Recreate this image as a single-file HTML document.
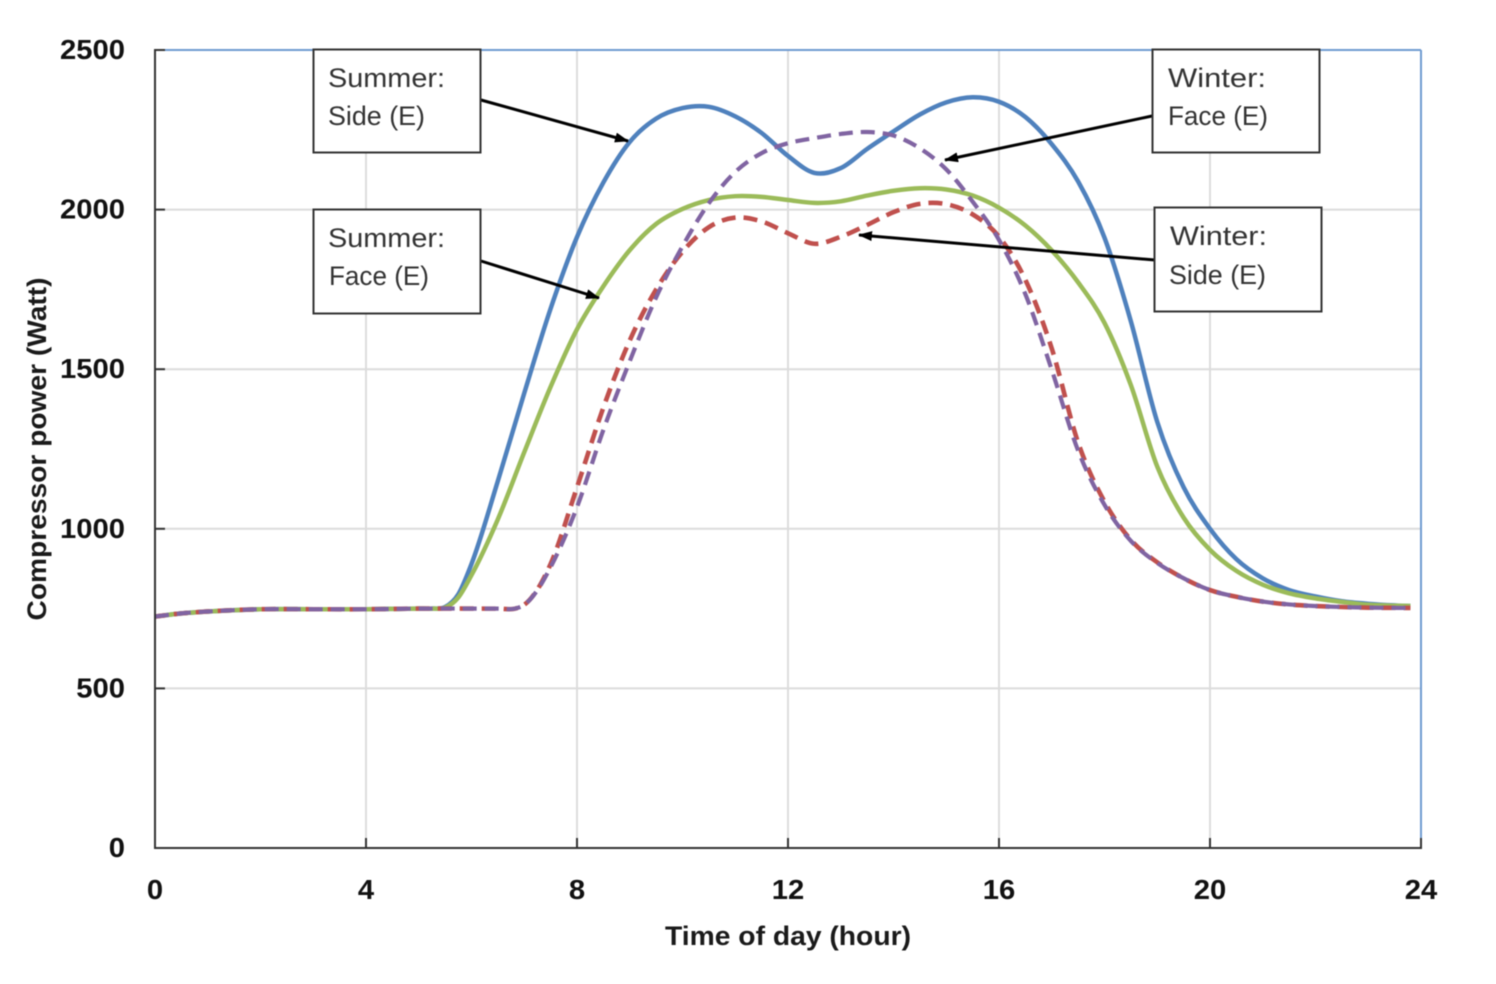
<!DOCTYPE html>
<html lang="en">
<head>
<meta charset="utf-8">
<title>Compressor power vs time of day</title>
<style>
html,body{margin:0;padding:0;background:#fff;}
svg{display:block;filter:blur(0.45px);}
text{font-family:"Liberation Sans",sans-serif;}
.tick{font-size:28px;font-weight:bold;fill:#111;}
.title{font-size:27px;font-weight:bold;fill:#1a1a1a;}
.box{fill:#fff;stroke:#333;stroke-width:2;}
.note{font-size:27px;fill:#333;}
.arrow{stroke:#000;stroke-width:3;fill:none;}
</style>
</head>
<body>
<svg id="chart" width="1496" height="984" viewBox="0 0 1496 984" xmlns="http://www.w3.org/2000/svg">
  <defs>
    <marker id="arrow-head" markerWidth="14" markerHeight="10" refX="13" refY="5" orient="auto" markerUnits="userSpaceOnUse">
      <path d="M0,0 L14,5 L0,10 Z" fill="#000"></path>
    </marker>
  </defs>
  <rect x="0" y="0" width="1496" height="984" fill="#fff"></rect>
  <g id="grid"></g>
  <line x1="155" y1="50" x2="1421" y2="50" stroke="#6f9bd1" stroke-width="2"></line>
  <line x1="1421" y1="50" x2="1421" y2="848" stroke="#6f9bd1" stroke-width="2"></line>
  <g id="series"></g>
  <g id="axes"></g>
  <text class="title" x="788" y="945" text-anchor="middle" textLength="246" lengthAdjust="spacingAndGlyphs">Time of day (hour)</text>
  <text class="title" transform="translate(46,449) rotate(-90)" text-anchor="middle" textLength="343" lengthAdjust="spacingAndGlyphs">Compressor power (Watt)</text>

  <line class="arrow" x1="481" y1="100" x2="628" y2="141" marker-end="url(#arrow-head)"></line>
  <line class="arrow" x1="481" y1="261" x2="599" y2="298" marker-end="url(#arrow-head)"></line>
  <line class="arrow" x1="1152" y1="116" x2="945" y2="160" marker-end="url(#arrow-head)"></line>
  <line class="arrow" x1="1155" y1="260" x2="859" y2="235" marker-end="url(#arrow-head)"></line>

  <g>
    <rect class="box" x="313.5" y="49.5" width="167" height="103"></rect>
    <text class="note" x="328" y="87" textLength="117" lengthAdjust="spacingAndGlyphs">Summer:</text>
    <text class="note" x="328" y="125" textLength="97" lengthAdjust="spacingAndGlyphs">Side (E)</text>
  </g>
  <g>
    <rect class="box" x="313.5" y="209.5" width="167" height="104"></rect>
    <text class="note" x="328" y="247" textLength="117" lengthAdjust="spacingAndGlyphs">Summer:</text>
    <text class="note" x="329" y="285" textLength="100" lengthAdjust="spacingAndGlyphs">Face (E)</text>
  </g>
  <g>
    <rect class="box" x="1152.5" y="49.5" width="167" height="103"></rect>
    <text class="note" x="1168" y="87" textLength="98" lengthAdjust="spacingAndGlyphs">Winter:</text>
    <text class="note" x="1168" y="125" textLength="100" lengthAdjust="spacingAndGlyphs">Face (E)</text>
  </g>
  <g>
    <rect class="box" x="1154.5" y="207.5" width="167" height="104"></rect>
    <text class="note" x="1170" y="245" textLength="97" lengthAdjust="spacingAndGlyphs">Winter:</text>
    <text class="note" x="1169" y="284" textLength="97" lengthAdjust="spacingAndGlyphs">Side (E)</text>
  </g>
</svg>
<script>
var xTickLabels = [0, 4, 8, 12, 16, 20, 24];
var yTickLabels = [0, 500, 1000, 1500, 2000, 2500];

var summerSideHours = [0,0.5,1,2,3,4,5,5.25,5.5,5.75,6,6.5,7,7.5,8,8.5,9,9.5,10,10.5,11,11.5,12,12.5,13,13.5,14,14.5,15,15.5,16,16.5,17,17.5,18,18.5,19,19.5,20,20.5,21,21.5,22,22.5,23,23.5,23.8];
var summerSideWatts = [725,735,741,748,748,748,750,750,755,795,890,1150,1425,1690,1914,2085,2212,2285,2318,2322,2292,2240,2168,2115,2130,2190,2245,2298,2336,2352,2338,2290,2205,2088,1912,1650,1335,1130,1000,905,845,808,788,773,765,760,758];

var summerFaceHours = [0,0.5,1,2,3,4,5,5.25,5.5,5.75,6,6.5,7,7.5,8,8.5,9,9.5,10,10.5,11,11.5,12,12.5,13,13.5,14,14.5,15,15.5,16,16.5,17,17.5,18,18.5,19,19.5,20,20.5,21,21.5,22,22.5,23,23.5,23.8];
var summerFaceWatts = [725,735,741,748,748,748,750,750,753,785,855,1030,1240,1445,1625,1760,1873,1955,2002,2030,2042,2040,2030,2021,2026,2044,2059,2067,2063,2044,2006,1950,1872,1772,1645,1450,1195,1035,934,868,825,798,782,771,762,759,758];

var winterSideHours = [0,0.5,1,2,3,4,5,6,6.5,6.85,7,7.25,7.5,8,8.5,9,9.5,10,10.5,11,11.5,12,12.5,13,13.5,14,14.5,15,15.5,16,16.5,17,17.5,18,18.5,19,19.5,20,20.5,21,21.5,22,22.5,23,23.8];
var winterSideWatts = [725,735,741,748,748,748,750,750,750,751,762,810,890,1130,1380,1590,1750,1868,1945,1975,1963,1926,1893,1915,1952,1992,2018,2017,1985,1915,1780,1565,1270,1085,965,895,845,808,787,772,763,758,755,753,752];

var winterFaceHours = [0,0.5,1,2,3,4,5,6,6.5,6.85,7,7.25,7.5,8,8.5,9,9.5,10,10.5,11,11.5,12,12.5,13,13.5,14,14.5,15,15.5,16,16.5,17,17.5,18,18.5,19,19.5,20,20.5,21,21.5,22,22.5,23,23.8];
var winterFaceWatts = [725,735,741,748,748,748,750,750,750,751,762,808,880,1068,1310,1525,1725,1885,2020,2118,2177,2208,2224,2237,2243,2232,2192,2126,2025,1905,1735,1498,1245,1075,962,893,845,808,787,772,763,758,755,753,752];

var SVGNS = 'http://www.w3.org/2000/svg';
function xPos(h) { return 155 + h * (1266 / 24); }
function yPos(w) { return 848 - w * (798 / 2500); }

// Smooth cubic path through the data points (three-point tangents)
function curvePath(hours, watts) {
  var px = hours.map(xPos), py = watts.map(yPos), n = px.length, m = [], s = [], i;
  for (i = 0; i < n - 1; i++) s.push((py[i + 1] - py[i]) / (px[i + 1] - px[i]));
  m[0] = s[0];
  m[n - 1] = s[n - 2];
  for (i = 1; i < n - 1; i++) {
    var h0 = px[i] - px[i - 1], h1 = px[i + 1] - px[i];
    m[i] = (s[i - 1] * h1 + s[i] * h0) / (h0 + h1);
  }
  var d = 'M' + px[0].toFixed(2) + ',' + py[0].toFixed(2);
  for (i = 0; i < n - 1; i++) {
    var dx = (px[i + 1] - px[i]) / 3;
    d += 'C' + (px[i] + dx).toFixed(2) + ',' + (py[i] + m[i] * dx).toFixed(2) + ' ' +
         (px[i + 1] - dx).toFixed(2) + ',' + (py[i + 1] - m[i + 1] * dx).toFixed(2) + ' ' +
         px[i + 1].toFixed(2) + ',' + py[i + 1].toFixed(2);
  }
  return d;
}

function svgEl(tag, parent, attrs) {
  var el = document.createElementNS(SVGNS, tag);
  for (var k in attrs) el.setAttribute(k, attrs[k]);
  parent.appendChild(el);
  return el;
}

var grid = document.getElementById('grid');
var axes = document.getElementById('axes');
var seriesGroup = document.getElementById('series');

xTickLabels.forEach(function (t) {
  var x = xPos(t);
  if (t > 0 && t < 24) {
    var g = svgEl('line', grid, {x1: x, y1: 50, x2: x, y2: 848, stroke: '#dcdcdc', 'stroke-width': 2});
    
    
  }
  var tk = svgEl('line', axes, {x1: x, y1: 838, x2: x, y2: 848, stroke: '#333', 'stroke-width': 2});
  
  
  var lb = svgEl('text', axes, {x: x, y: 899, 'text-anchor': 'middle', 'class': 'tick', textLength: String(t).length * 16.25, lengthAdjust: 'spacingAndGlyphs'});
  lb.textContent = t;
  
  
});

yTickLabels.forEach(function (t) {
  var y = yPos(t);
  if (t > 0 && t < 2500) {
    var g = svgEl('line', grid, {x1: 155, y1: y, x2: 1421, y2: y, stroke: '#dcdcdc', 'stroke-width': 2});
    
    
  }
  var tk = svgEl('line', axes, {x1: 155, y1: y, x2: 165, y2: y, stroke: '#333', 'stroke-width': 2});
  
  
  var lb = svgEl('text', axes, {x: 125, y: y + 9, 'text-anchor': 'end', 'class': 'tick', textLength: String(t).length * 16.25, lengthAdjust: 'spacingAndGlyphs'});
  lb.textContent = t;
  
  
});

var axisY = svgEl('line', axes, {x1: 155, y1: 49, x2: 155, y2: 849, stroke: '#333', 'stroke-width': 2});


var axisX = svgEl('line', axes, {x1: 155, y1: 848, x2: 1422, y2: 848, stroke: '#333', 'stroke-width': 2});



var lineSide = svgEl('path', seriesGroup, {d: curvePath(summerSideHours, summerSideWatts), fill: 'none', stroke: '#4f81bd', 'stroke-width': 4.5});



var lineFace = svgEl('path', seriesGroup, {d: curvePath(summerFaceHours, summerFaceWatts), fill: 'none', stroke: '#9bbb59', 'stroke-width': 4.5});



var lineWinterSide = svgEl('path', seriesGroup, {d: curvePath(winterSideHours, winterSideWatts), fill: 'none', stroke: '#c0504d', 'stroke-width': 4.6, 'stroke-dasharray': '14 8', 'stroke-dashoffset': 3});



var lineWinterFace = svgEl('path', seriesGroup, {d: curvePath(winterFaceHours, winterFaceWatts), fill: 'none', stroke: '#8064a2', 'stroke-width': 4.2, 'stroke-dasharray': '14 8'});


</script>
</body>
</html>
